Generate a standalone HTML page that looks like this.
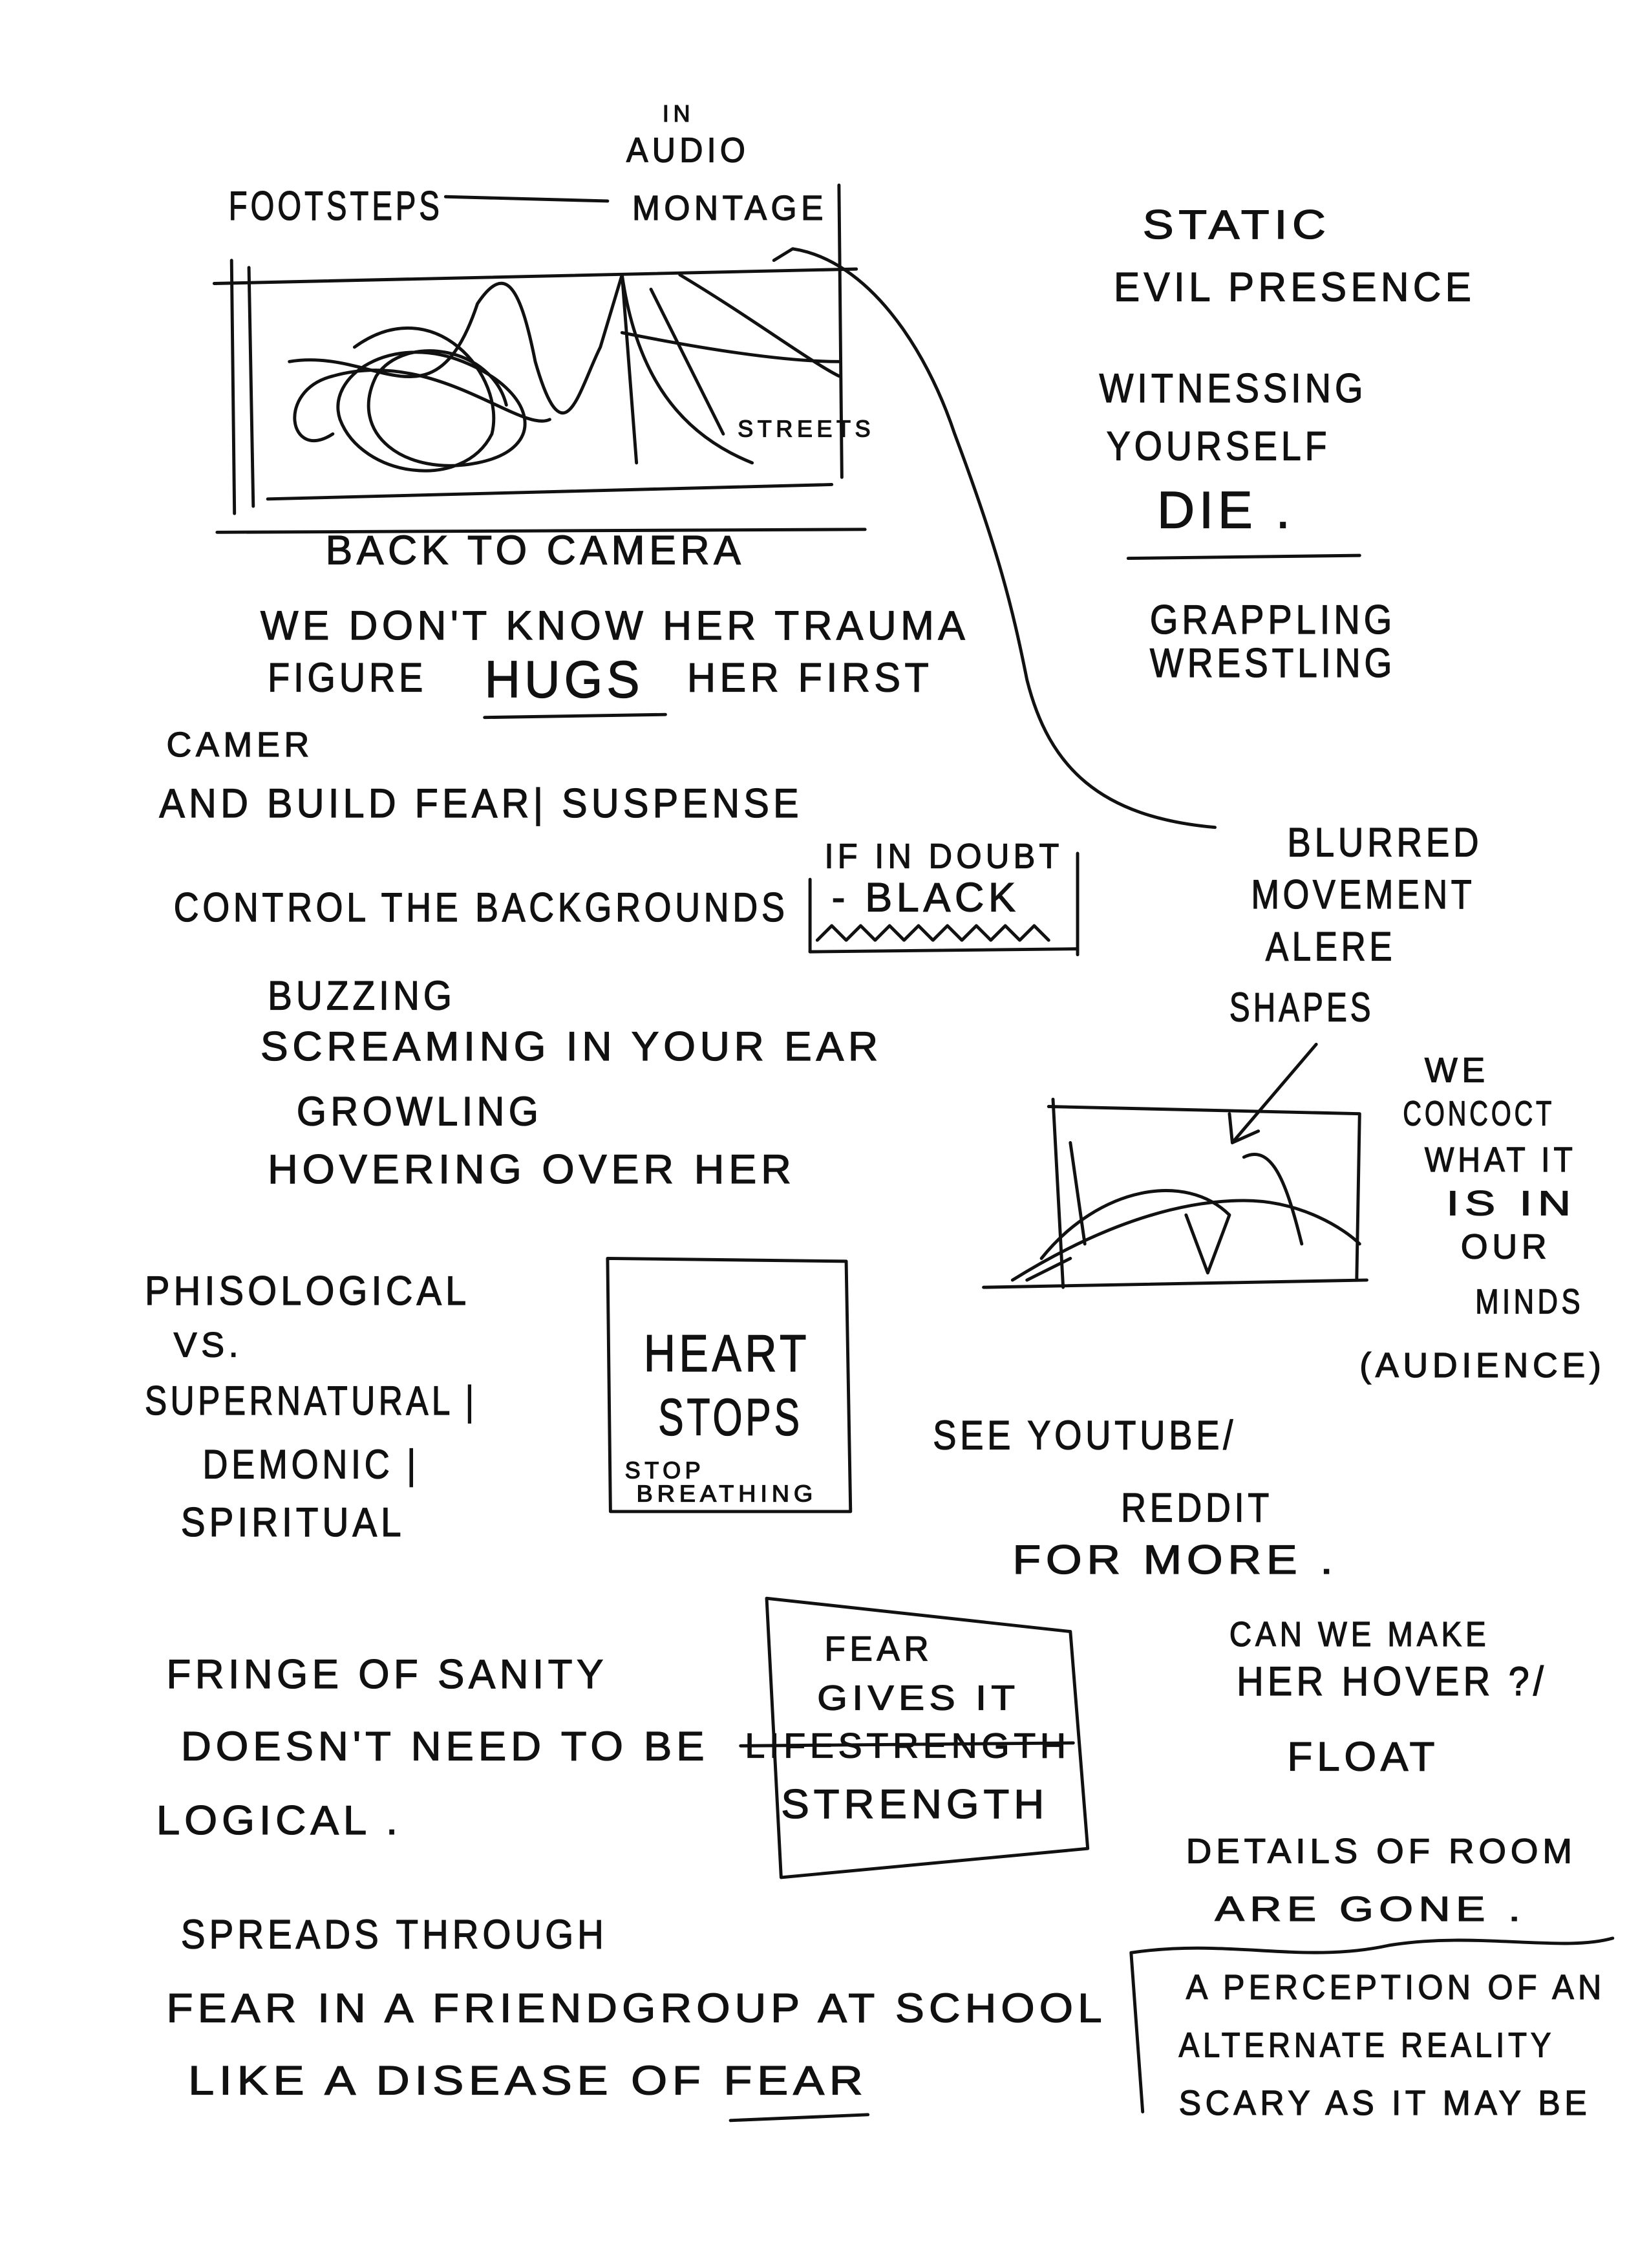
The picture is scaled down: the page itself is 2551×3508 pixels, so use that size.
<!DOCTYPE html>
<html><head><meta charset="utf-8"><style>
html,body{margin:0;padding:0;background:#fff}
svg{display:block}
text{font-family:"Liberation Sans",sans-serif;fill:#111;stroke:#111;stroke-width:0.6;letter-spacing:3px}
.s{font-size:24px}.m{font-size:28px}.l{font-size:36px}.xs{font-size:16px}
path,line,rect,polyline{fill:none;stroke:#111;stroke-width:2.2;stroke-linecap:round;stroke-linejoin:round}
</style></head><body>
<svg width="2551" height="3508" viewBox="0 0 1140 1568" xmlns="http://www.w3.org/2000/svg">
<rect x="0" y="0" width="1140" height="1568" style="fill:#fff;stroke:none"/>
<text class="xs" x="458" y="84">IN</text>
<text class="s" x="433" y="112" textLength="85" lengthAdjust="spacingAndGlyphs">AUDIO</text>
<text class="s" x="437" y="152" textLength="135" lengthAdjust="spacingAndGlyphs">MONTAGE</text>
<text class="m" x="158" y="152" textLength="148" lengthAdjust="spacingAndGlyphs">FOOTSTEPS</text>
<line x1="308" y1="136" x2="420" y2="139"/>
<line x1="580" y1="128" x2="582" y2="330"/>
<line x1="148" y1="196" x2="592" y2="186"/>
<line x1="160" y1="180" x2="162" y2="355"/>
<line x1="172" y1="185" x2="175" y2="350"/>
<line x1="150" y1="368" x2="598" y2="366"/>
<line x1="185" y1="345" x2="575" y2="335"/>
<path d="M200 250 C260 240 300 300 330 210 C350 180 360 200 370 250 C390 320 400 270 415 240 L430 190 C440 260 470 300 520 320"/>
<path d="M245 240 C300 200 350 260 340 300 C320 340 250 330 235 290 C225 260 270 230 320 250 C370 270 380 310 330 320 C280 330 240 300 260 260 C280 230 340 240 350 280 M230 300 C200 320 190 270 230 260 C300 240 360 300 380 290"/>
<path d="M430 190 L440 320 M450 200 L500 300 M470 190 C520 220 560 250 580 260 M430 230 C480 240 540 250 580 250"/>
<text class="xs" x="510" y="302">STREETS</text>
<path d="M535 180 L548 172 M548 172 C600 180 640 240 660 300 C690 380 700 420 710 470 C725 530 760 565 840 572"/>
<text class="m" x="225" y="390" textLength="290" lengthAdjust="spacingAndGlyphs">BACK TO CAMERA</text>
<text class="m" x="180" y="442" textLength="490" lengthAdjust="spacingAndGlyphs">WE DON'T KNOW HER TRAUMA</text>
<text class="m" x="185" y="478" textLength="110" lengthAdjust="spacingAndGlyphs">FIGURE</text>
<text class="l" x="335" y="482" textLength="110" lengthAdjust="spacingAndGlyphs">HUGS</text>
<text class="m" x="475" y="478" textLength="170" lengthAdjust="spacingAndGlyphs">HER FIRST</text>
<line x1="335" y1="496" x2="460" y2="494"/>
<text class="s" x="115" y="523">CAMER</text>
<text class="m" x="110" y="565" textLength="445" lengthAdjust="spacingAndGlyphs">AND BUILD FEAR| SUSPENSE</text>
<text class="m" x="120" y="637" textLength="425" lengthAdjust="spacingAndGlyphs">CONTROL THE BACKGROUNDS</text>
<text class="s" x="570" y="600" textLength="165" lengthAdjust="spacingAndGlyphs">IF IN DOUBT</text>
<text class="m" x="575" y="630" textLength="130" lengthAdjust="spacingAndGlyphs">- BLACK</text>
<line x1="560" y1="608" x2="560" y2="658"/>
<line x1="745" y1="590" x2="745" y2="660"/>
<line x1="560" y1="658" x2="745" y2="656"/>
<path d="M565 650 L575 640 L585 650 L595 640 L605 650 L615 640 L625 650 L635 640 L645 650 L655 640 L665 650 L675 640 L685 650 L695 640 L705 650 L715 640 L725 650"/>
<text class="m" x="185" y="698" textLength="130" lengthAdjust="spacingAndGlyphs">BUZZING</text>
<text class="m" x="180" y="733" textLength="430" lengthAdjust="spacingAndGlyphs">SCREAMING IN YOUR EAR</text>
<text class="m" x="205" y="778" textLength="170" lengthAdjust="spacingAndGlyphs">GROWLING</text>
<text class="m" x="185" y="818" textLength="365" lengthAdjust="spacingAndGlyphs">HOVERING OVER HER</text>
<text class="m" x="790" y="165" textLength="130" lengthAdjust="spacingAndGlyphs">STATIC</text>
<text class="m" x="770" y="208" textLength="250" lengthAdjust="spacingAndGlyphs">EVIL PRESENCE</text>
<text class="m" x="760" y="278" textLength="185" lengthAdjust="spacingAndGlyphs">WITNESSING</text>
<text class="m" x="765" y="318" textLength="155" lengthAdjust="spacingAndGlyphs">YOURSELF</text>
<text class="l" x="800" y="365">DIE .</text>
<line x1="780" y1="386" x2="940" y2="384"/>
<text class="m" x="795" y="438" textLength="170" lengthAdjust="spacingAndGlyphs">GRAPPLING</text>
<text class="m" x="795" y="468" textLength="170" lengthAdjust="spacingAndGlyphs">WRESTLING</text>
<text class="m" x="890" y="592" textLength="135" lengthAdjust="spacingAndGlyphs">BLURRED</text>
<text class="m" x="865" y="628" textLength="155" lengthAdjust="spacingAndGlyphs">MOVEMENT</text>
<text class="m" x="875" y="664" textLength="90" lengthAdjust="spacingAndGlyphs">ALERE</text>
<text class="m" x="850" y="706" textLength="100" lengthAdjust="spacingAndGlyphs">SHAPES</text>
<line x1="910" y1="722" x2="852" y2="790"/>
<polyline points="850,770 852,790 870,782"/>
<path d="M725 765 L940 770 L938 885 M728 760 L735 890 M680 890 L945 885"/>
<path d="M700 885 C740 860 800 830 860 830 C900 830 930 850 940 860 M720 870 C760 820 820 810 850 840 L835 880 L820 840 M860 800 C880 790 890 820 900 860 M740 790 L750 860 M710 885 L740 870"/>
<text class="s" x="985" y="748">WE</text>
<text class="s" x="970" y="778" textLength="105" lengthAdjust="spacingAndGlyphs">CONCOCT</text>
<text class="s" x="985" y="810" textLength="105" lengthAdjust="spacingAndGlyphs">WHAT IT</text>
<text class="s" x="1000" y="840" textLength="90" lengthAdjust="spacingAndGlyphs">IS IN</text>
<text class="s" x="1010" y="870">OUR</text>
<text class="s" x="1020" y="908" textLength="75" lengthAdjust="spacingAndGlyphs">MINDS</text>
<text class="s" x="940" y="952" textLength="170" lengthAdjust="spacingAndGlyphs">(AUDIENCE)</text>
<text class="m" x="100" y="902" textLength="225" lengthAdjust="spacingAndGlyphs">PHISOLOGICAL</text>
<text class="s" x="120" y="938">VS.</text>
<text class="m" x="100" y="978" textLength="230" lengthAdjust="spacingAndGlyphs">SUPERNATURAL |</text>
<text class="m" x="140" y="1022" textLength="150" lengthAdjust="spacingAndGlyphs">DEMONIC |</text>
<text class="m" x="125" y="1062" textLength="155" lengthAdjust="spacingAndGlyphs">SPIRITUAL</text>
<path d="M420 870 L585 872 L588 1045 L422 1045 Z"/>
<text class="l" x="445" y="948" textLength="115" lengthAdjust="spacingAndGlyphs">HEART</text>
<text class="l" x="455" y="992" textLength="100" lengthAdjust="spacingAndGlyphs">STOPS</text>
<text class="xs" x="432" y="1022">STOP</text>
<text class="xs" x="440" y="1038" textLength="125" lengthAdjust="spacingAndGlyphs">BREATHING</text>
<text class="m" x="645" y="1002" textLength="210" lengthAdjust="spacingAndGlyphs">SEE YOUTUBE/</text>
<text class="m" x="775" y="1052" textLength="105" lengthAdjust="spacingAndGlyphs">REDDIT</text>
<text class="m" x="700" y="1088" textLength="225" lengthAdjust="spacingAndGlyphs">FOR MORE .</text>
<text class="s" x="850" y="1138" textLength="180" lengthAdjust="spacingAndGlyphs">CAN WE MAKE</text>
<text class="m" x="855" y="1172" textLength="215" lengthAdjust="spacingAndGlyphs">HER HOVER ?/</text>
<text class="m" x="890" y="1224" textLength="105" lengthAdjust="spacingAndGlyphs">FLOAT</text>
<text class="s" x="820" y="1288" textLength="270" lengthAdjust="spacingAndGlyphs">DETAILS OF ROOM</text>
<text class="s" x="840" y="1328" textLength="215" lengthAdjust="spacingAndGlyphs">ARE GONE .</text>
<text class="m" x="115" y="1167" textLength="305" lengthAdjust="spacingAndGlyphs">FRINGE OF SANITY</text>
<text class="m" x="125" y="1217" textLength="365" lengthAdjust="spacingAndGlyphs">DOESN'T NEED TO BE</text>
<text class="s" x="515" y="1215" textLength="225" lengthAdjust="spacingAndGlyphs">LIFESTRENGTH</text>
<line x1="512" y1="1207" x2="742" y2="1205"/>
<text class="m" x="108" y="1268" textLength="170" lengthAdjust="spacingAndGlyphs">LOGICAL .</text>
<path d="M530 1105 L740 1128 L752 1278 L540 1298 Z"/>
<text class="s" x="570" y="1148" textLength="75" lengthAdjust="spacingAndGlyphs">FEAR</text>
<text class="s" x="565" y="1182" textLength="140" lengthAdjust="spacingAndGlyphs">GIVES IT</text>
<text class="m" x="540" y="1257" textLength="185" lengthAdjust="spacingAndGlyphs">STRENGTH</text>
<text class="m" x="125" y="1347" textLength="295" lengthAdjust="spacingAndGlyphs">SPREADS THROUGH</text>
<text class="m" x="115" y="1398" textLength="650" lengthAdjust="spacingAndGlyphs">FEAR IN A FRIENDGROUP AT SCHOOL</text>
<text class="m" x="130" y="1448" textLength="470" lengthAdjust="spacingAndGlyphs">LIKE A DISEASE OF FEAR</text>
<line x1="505" y1="1466" x2="600" y2="1462"/>
<path d="M790 1460 L782 1350 C850 1340 900 1358 960 1345 C1020 1335 1080 1350 1115 1340"/>
<text class="s" x="820" y="1382" textLength="290" lengthAdjust="spacingAndGlyphs">A PERCEPTION OF AN</text>
<text class="s" x="815" y="1422" textLength="260" lengthAdjust="spacingAndGlyphs">ALTERNATE REALITY</text>
<text class="s" x="815" y="1462" textLength="285" lengthAdjust="spacingAndGlyphs">SCARY AS IT MAY BE</text>
</svg>
</body></html>
